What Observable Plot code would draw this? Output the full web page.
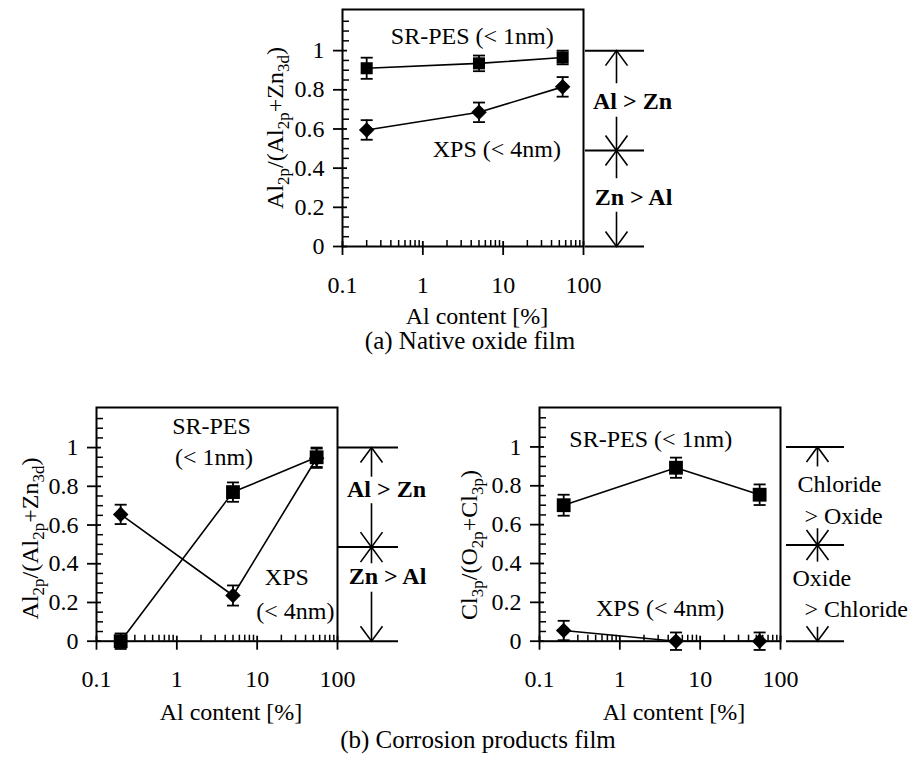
<!DOCTYPE html>
<html><head><meta charset="utf-8">
<script src="https://cdn.jsdelivr.net/npm/d3@7"></script>
<script src="https://cdn.jsdelivr.net/npm/@observablehq/plot@0.6"></script>
<style>
body{margin:0;background:#fff;}
#fig{position:relative;width:914px;height:762px;background:#fff;font-family:"Liberation Serif","Times New Roman",serif;color:#000;overflow:hidden;}
.caption{position:absolute;font-size:25px;line-height:25px;text-align:center;white-space:nowrap;width:400px;}
</style></head><body><div id="fig"></div>
<script>
// ---- data ----
const alContent = [0.2, 5, 55];

// (a) native oxide film, Al2p/(Al2p+Zn3d)
const nativeSrpes = [0.91, 0.935, 0.965];
const nativeSrpesErr = [0.054, 0.04, 0.035];
const nativeXps = [0.595, 0.685, 0.815];
const nativeXpsErr = [0.05, 0.05, 0.05];

// (b) corrosion products film, Al2p/(Al2p+Zn3d)
const corrAlSrpes = [0.0, 0.77, 0.95];
const corrAlSrpesErr = [0.04, 0.05, 0.05];
const corrAlXps = [0.655, 0.236, 0.945];
const corrAlXpsErr = [0.05, 0.052, 0.05];

// (b) corrosion products film, Cl3p/(O2p+Cl3p)
const corrClSrpes = [0.70, 0.893, 0.754];
const corrClSrpesErr = [0.054, 0.052, 0.053];
const corrClXps = [0.055, 0.0, 0.0];
const corrClXpsErr = [0.05, 0.045, 0.045];

const xTicks = [0.1, 1, 10, 100];
const xMinorTicks = [0.2,0.3,0.4,0.5,0.6,0.7,0.8,0.9,2,3,4,5,6,7,8,9,20,30,40,50,60,70,80,90];
const yTicks = [0, 0.2, 0.4, 0.6, 0.8, 1];
const yMinorTicks = [0.05,0.1,0.15,0.25,0.3,0.35,0.45,0.5,0.55,0.65,0.7,0.75,0.85,0.9,0.95,1.05,1.1,1.15];

const xAxisTitle = "Al content [%]";
const yLabelAl = [["Al",0],["2p",1],["/(Al",0],["2p",1],["+Zn",0],["3d",1],[")",0]];
const yLabelCl = [["Cl",0],["3p",1],["/(O",0],["2p",1],["+Cl",0],["3p",1],[")",0]];
const captionA = "(a) Native oxide film";
const captionB = "(b) Corrosion products film";

// ---- symbols ----
const capSymbol = {draw(c){ c.moveTo(-6,0); c.lineTo(6,0); }};
const headUp = {draw(c){ c.moveTo(-11,15); c.lineTo(0,0); c.lineTo(11,15); }};
const headDown = {draw(c){ c.moveTo(-11,-15); c.lineTo(0,0); c.lineTo(11,-15); }};

const FONT = '"Liberation Serif","Times New Roman",serif';
const fig = document.getElementById("fig");
const xEdge = () => xTicks[xTicks.length - 1];

function panel(cfg) {
  const rows = alContent.flatMap((x, i) => [
    {x, y: cfg.srpes[i], err: cfg.srpesErr[i], method: "SR-PES"},
    {x, y: cfg.xps[i], err: cfg.xpsErr[i], method: "XPS"}
  ]);
  const sr = rows.filter(d => d.method === "SR-PES");
  const xp = rows.filter(d => d.method === "XPS");
  const b = cfg.bracket;
  const marks = [
    Plot.line(rows, {x: "x", y: "y", z: "method", stroke: "black", strokeWidth: 1.6}),
    Plot.ruleX(rows, {x: "x", y1: d => d.y - d.err, y2: d => d.y + d.err, stroke: "black", strokeWidth: 1.8}),
    Plot.dot(rows, {x: "x", y: d => d.y - d.err, symbol: capSymbol, fill: "none", stroke: "black", strokeWidth: 1.8}),
    Plot.dot(rows, {x: "x", y: d => d.y + d.err, symbol: capSymbol, fill: "none", stroke: "black", strokeWidth: 1.8}),
    Plot.dot(sr, {x: "x", y: "y", symbol: "square", r: cfg.squareR, fill: "black", stroke: "none"}),
    Plot.dot(xp, {x: "x", y: "y", symbol: "diamond2", r: 7, fill: "black", stroke: "none"}),
    Plot.frame({stroke: "black", strokeWidth: 2}),
    Plot.axisY(yTicks, {anchor: "left", tickSize: 9, tickPadding: 9, tickFormat: d => String(d), fontSize: 24, label: null, strokeWidth: 1.8}),
    Plot.axisY(yTicks, {anchor: "left", tickSize: -5, tickFormat: () => "", label: null, strokeWidth: 1.8}),
    Plot.axisY(yMinorTicks, {anchor: "left", tickSize: -7, tickFormat: () => "", label: null, strokeWidth: 1.5}),
    Plot.axisX(xTicks, {anchor: "bottom", tickSize: 9, tickPadding: 20, tickFormat: d => String(d), fontSize: 24, label: null, strokeWidth: 1.8}),
    Plot.axisX(xTicks, {anchor: "bottom", tickSize: -5, tickFormat: () => "", label: null, strokeWidth: 1.8}),
    Plot.axisX(xMinorTicks, {anchor: "bottom", tickSize: -6, tickFormat: () => "", label: null, strokeWidth: 1.5}),
    // bracket on the right of the frame
    Plot.ruleY(b.levels, {x1: xEdge, x2: xEdge, insetLeft: b.lineFrom, insetRight: -b.lineTo, stroke: "black", strokeWidth: 2}),
    Plot.ruleX(b.segments, {x: xEdge, y1: "y1", y2: "y2", dx: b.arrowAt, stroke: "black", strokeWidth: 1.6}),
    Plot.dot(b.headsUp, {x: xEdge, y: d => d, dx: b.arrowAt, symbol: headUp, fill: "none", stroke: "black", strokeWidth: 1.6}),
    Plot.dot(b.headsDown, {x: xEdge, y: d => d, dx: b.arrowAt, symbol: headDown, fill: "none", stroke: "black", strokeWidth: 1.6}),
    ...b.labels.map(l => Plot.text([l], {x: xEdge, y: "y", text: "text", dx: l.dx, textAnchor: l.anchor, fontWeight: l.bold ? "bold" : "normal", lineAnchor: "bottom", fontSize: 24, fill: "black"})),
    Plot.text(cfg.notes, {x: "x", y: "y", text: "text", lineAnchor: "bottom", textAnchor: "middle", fontSize: 24, fill: "black"}),
    Plot.text([xAxisTitle], {frameAnchor: "bottom", lineAnchor: "bottom", dy: cfg.xTitleDy, dx: 14, fontSize: 24, fill: "black"})
  ];
  const svg = Plot.plot({
    width: cfg.width, height: cfg.height,
    marginLeft: cfg.ml, marginRight: cfg.width - cfg.ml - 241, marginTop: cfg.mt, marginBottom: cfg.mb,
    x: {type: "log", domain: [xTicks[0], xTicks[xTicks.length - 1]]},
    y: {domain: [0, cfg.yMax]},
    style: {fontFamily: FONT, fontSize: "24px", background: "transparent", color: "black", overflow: "visible"},
    marks
  });
  svg.style.position = "absolute";
  svg.style.left = cfg.left + "px";
  svg.style.top = cfg.top + "px";
  // rotated y-axis label with subscripts
  const t = d3.select(svg).append("text")
    .attr("transform", `translate(${cfg.yLabelX},${cfg.yLabelY}) rotate(-90)`)
    .attr("text-anchor", "middle").attr("font-size", 24).attr("fill", "black")
    .attr("font-family", FONT);
  let prevSub = 0;
  cfg.yLabel.forEach(([s, sub]) => {
    const ts = t.append("tspan").text(s);
    if (sub) ts.attr("font-size", 17).attr("dy", prevSub ? 0 : 6);
    else if (prevSub) ts.attr("dy", -6);
    prevSub = sub;
  });
  fig.appendChild(svg);
}

// (a)
panel({
  left: 240, top: 0, width: 450, height: 340, ml: 102, mt: 9, mb: 94, yMax: 1.21,
  srpes: nativeSrpes, srpesErr: nativeSrpesErr, xps: nativeXps, xpsErr: nativeXpsErr, squareR: 6.8,
  yLabel: yLabelAl, yLabelX: 42.5, yLabelY: 128, xTitleDy: 77,
  notes: [
    {text: "SR-PES (< 1nm)", x: 4.12, y: 1.035},
    {text: "XPS (< 4nm)", x: 8.35, y: 0.459}
  ],
  bracket: {
    levels: [0, 0.49, 1], lineFrom: 2, lineTo: 61, arrowAt: 33,
    segments: [{y1: 0.831, y2: 1}, {y1: 0.49, y2: 0.66}, {y1: 0.346, y2: 0.49}, {y1: 0, y2: 0.175}],
    headsUp: [1, 0.49], headsDown: [0.49, 0],
    labels: [
      {text: "Al > Zn", y: 0.703, dx: 49, anchor: "middle", bold: true},
      {text: "Zn > Al", y: 0.214, dx: 50, anchor: "middle", bold: true}
    ]
  }
});

// (b) left
panel({
  left: 0, top: 370, width: 450, height: 360, ml: 96, mt: 37, mb: 89.3, yMax: 1.207,
  srpes: corrAlSrpes, srpesErr: corrAlSrpesErr, xps: corrAlXps, xpsErr: corrAlXpsErr, squareR: 7.8,
  yLabel: yLabelAl, yLabelX: 38, yLabelY: 168.5, xTitleDy: 79,
  notes: [
    {text: "SR-PES", x: 2.70, y: 1.072},
    {text: "(< 1nm)", x: 2.90, y: 0.908},
    {text: "XPS", x: 23.4, y: 0.288},
    {text: "(< 4nm)", x: 29.9, y: 0.116}
  ],
  bracket: {
    levels: [0, 0.486, 1], lineFrom: 1, lineTo: 61, arrowAt: 34,
    segments: [{y1: 0.847, y2: 1}, {y1: 0.486, y2: 0.71}, {y1: 0.40, y2: 0.486}, {y1: 0, y2: 0.253}],
    headsUp: [1, 0.486], headsDown: [0.486, 0],
    labels: [
      {text: "Al > Zn", y: 0.744, dx: 49, anchor: "middle", bold: true},
      {text: "Zn > Al", y: 0.293, dx: 50, anchor: "middle", bold: true}
    ]
  }
});

// (b) right
panel({
  left: 455, top: 370, width: 459, height: 360, ml: 84, mt: 37, mb: 89.3, yMax: 1.203,
  srpes: corrClSrpes, srpesErr: corrClSrpesErr, xps: corrClXps, xpsErr: corrClXpsErr, squareR: 7.8,
  yLabel: yLabelCl, yLabelX: 21.7, yLabelY: 175, xTitleDy: 79,
  notes: [
    {text: "SR-PES (< 1nm)", x: 2.43, y: 1.0},
    {text: "XPS (< 4nm)", x: 3.17, y: 0.132}
  ],
  bracket: {
    levels: [0, 0.495, 1], lineFrom: 6, lineTo: 64, arrowAt: 37,
    segments: [{y1: 0.897, y2: 1}, {y1: 0.495, y2: 0.579}, {y1: 0.407, y2: 0.495}, {y1: 0, y2: 0.072}],
    headsUp: [1, 0.495], headsDown: [0.495, 0],
    labels: [
      {text: "Chloride", y: 0.768, dx: 17, anchor: "start", bold: false},
      {text: "> Oxide", y: 0.605, dx: 24, anchor: "start", bold: false},
      {text: "Oxide", y: 0.282, dx: 12, anchor: "start", bold: false},
      {text: "> Chloride", y: 0.124, dx: 24, anchor: "start", bold: false}
    ]
  }
});

// captions
[[captionA, 470, 349], [captionB, 478, 748]].forEach(([txt, cx, base]) => {
  const d = document.createElement("div");
  d.className = "caption";
  d.textContent = txt;
  d.style.left = (cx - 200) + "px";
  d.style.top = (base - 21) + "px";
  fig.appendChild(d);
});
</script>
</body></html>
